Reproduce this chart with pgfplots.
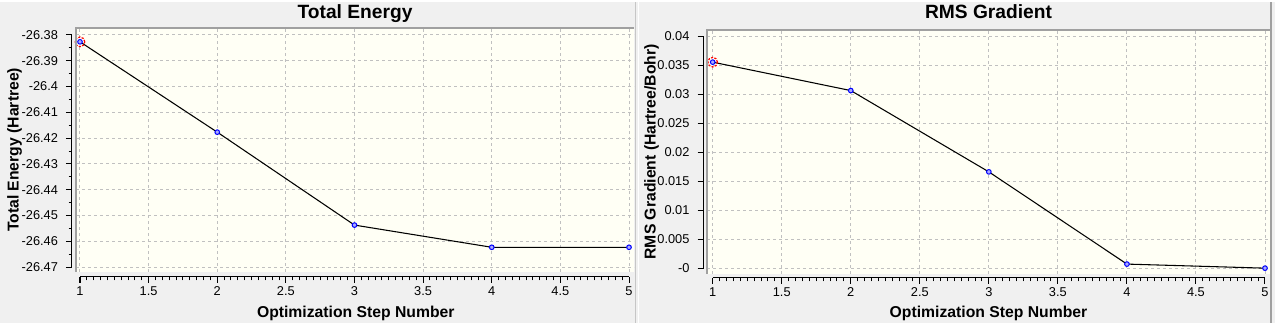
\documentclass[border=0pt]{standalone}
\usepackage{pgfplots}
\pgfplotsset{compat=1.18}
\usepackage{fontspec}
\setmainfont{Liberation Sans}
\definecolor{bgg}{RGB}{240,240,240}
\definecolor{cream}{RGB}{255,255,245}
\definecolor{gridg}{RGB}{192,192,192}
\definecolor{bord}{RGB}{160,160,160}
\definecolor{mfill}{RGB}{170,170,255}
\pgfplotsset{
  mainax/.style={scale only axis, anchor=south west, clip=false,
    scaled x ticks=false, scaled y ticks=false,
    axis line style={draw=none}, major tick length=0pt, minor tick length=0pt,
    xticklabels={}, yticklabels={}, grid=major,
    major grid style={gridg, line width=0.75pt, dash pattern=on 2.25pt off 2.25pt},
    axis background/.style={fill=cream}},
  scaleax/.style={scale only axis, anchor=south west,
    scaled x ticks=false, scaled y ticks=false,
    tick align=outside, axis line style={-, black, line width=0.75pt},
    tick style={black, line width=0.75pt},
    major tick length=4.5pt, minor tick length=2.6pt,
    ticklabel style={font=\fontsize{9.6}{11}\selectfont},
    /pgf/number format/assume math mode=true},
  xsc/.style={scaleax, axis x line*=bottom, axis y line=none, ytick=\empty,
    ymin=0, ymax=1, height=10pt, xmin=1, xmax=5,
    xtick={1,1.5,2,2.5,3,3.5,4,4.5,5}, minor x tick num=9,
    xticklabels={1,1.5,2,2.5,3,3.5,4,4.5,5},
    xticklabel shift=-0.6pt},
  ysc/.style={scaleax, axis y line*=left, axis x line=none, xtick=\empty,
    xmin=0, xmax=1, width=10pt, yticklabel shift=2.5pt},
  dataline/.style={black, line width=0.8pt, mark=*, mark size=1.75pt,
    mark options={draw=blue, fill=mfill, line width=0.75pt}},
  selmark/.style={only marks, mark=o, mark size=3.6pt,
    mark options={draw=red, line width=0.9pt, dash pattern=on 1.6pt off 1pt}},
}
\begin{document}
\begin{tikzpicture}[x=0.75pt, y=0.75pt]
\fill[bgg] (0,0) rectangle (1275,321);
\draw[gray!45, line width=1.1pt] (635.5,0) -- (635.5,321);
\draw[white, line width=0.75pt] (638,0) -- (638,321);
\draw[bord, line width=1.1pt] (1271,0) -- (1271,321);

% ---------- Left panel ----------
\begin{axis}[mainax, at={(57pt,38.25pt)}, width=418.5pt, height=183pt,
  xmin=0.97086, xmax=5.0364, ymin=-26.47182, ymax=-26.37729,
  xtick={1,1.5,2,2.5,3,3.5,4,4.5,5},
  ytick={-26.47,-26.46,-26.45,-26.44,-26.43,-26.42,-26.41,-26.40,-26.39,-26.38}]
\addplot[dataline] coordinates {(1,-26.3827) (2,-26.4177) (3,-26.4537) (4,-26.4623) (5,-26.4623)};
\addplot[selmark] coordinates {(1,-26.3827)};
\end{axis}
\draw[bord, line width=1.1pt] (76,51) -- (76,295) -- (634,295);
\begin{axis}[xsc, at={(60pt,34.5pt)}, width=411.75pt]
\end{axis}
\begin{axis}[ysc, at={(54pt,41.775pt)}, height=174.2pt,
  ymin=-26.47, ymax=-26.38,
  ytick={-26.47,-26.46,-26.45,-26.44,-26.43,-26.42,-26.41,-26.40,-26.39,-26.38},
  yticklabels={-26.47,-26.46,-26.45,-26.44,-26.43,-26.42,-26.41,-26.4,-26.39,-26.38},
  minor y tick num=1]
\end{axis}
\node[font=\bfseries\fontsize{14.4}{16}\selectfont, anchor=base] at (355,304.5) {Total Energy};
\node[font=\bfseries\fontsize{11.8}{14}\selectfont, anchor=base] at (355.8,5.5) {Optimization Step Number};
\node[font=\bfseries\fontsize{11.8}{14}\selectfont, anchor=base, rotate=90] at (18.5,173) {Total Energy (Hartree)};

% ---------- Right panel ----------
\begin{axis}[mainax, at={(530.25pt,36.75pt)}, width=422.25pt, height=183pt,
  xmin=0.9587, xmax=5.0362, ymin=-0.000983, ymax=0.041086,
  xtick={1,1.5,2,2.5,3,3.5,4,4.5,5},
  ytick={0,0.005,0.01,0.015,0.02,0.025,0.03,0.035,0.04}]
\addplot[dataline] coordinates {(1,0.03552) (2,0.03062) (3,0.0166) (4,0.0007) (5,0.0000)};
\addplot[selmark] coordinates {(1,0.03552)};
\end{axis}
\draw[bord, line width=1.1pt] (707,49) -- (707,293) -- (1270,293);
\begin{axis}[xsc, at={(534.525pt,33.75pt)}, width=414.2pt]
\end{axis}
\begin{axis}[ysc, at={(527.625pt,41.025pt)}, height=174pt,
  ymin=0, ymax=0.04,
  ytick={0,0.005,0.01,0.015,0.02,0.025,0.03,0.035,0.04},
  yticklabels={-0,0.005,0.01,0.015,0.02,0.025,0.03,0.035,0.04}]
\end{axis}
\node[font=\bfseries\fontsize{14.4}{16}\selectfont, anchor=base] at (988.5,304.5) {RMS Gradient};
\node[font=\bfseries\fontsize{11.8}{14}\selectfont, anchor=base] at (988.5,5.5) {Optimization Step Number};
\node[font=\bfseries\fontsize{11.8}{14}\selectfont, anchor=base, rotate=90] at (655.5,171) {RMS Gradient (Hartree/Bohr)};
\end{tikzpicture}
\end{document}
